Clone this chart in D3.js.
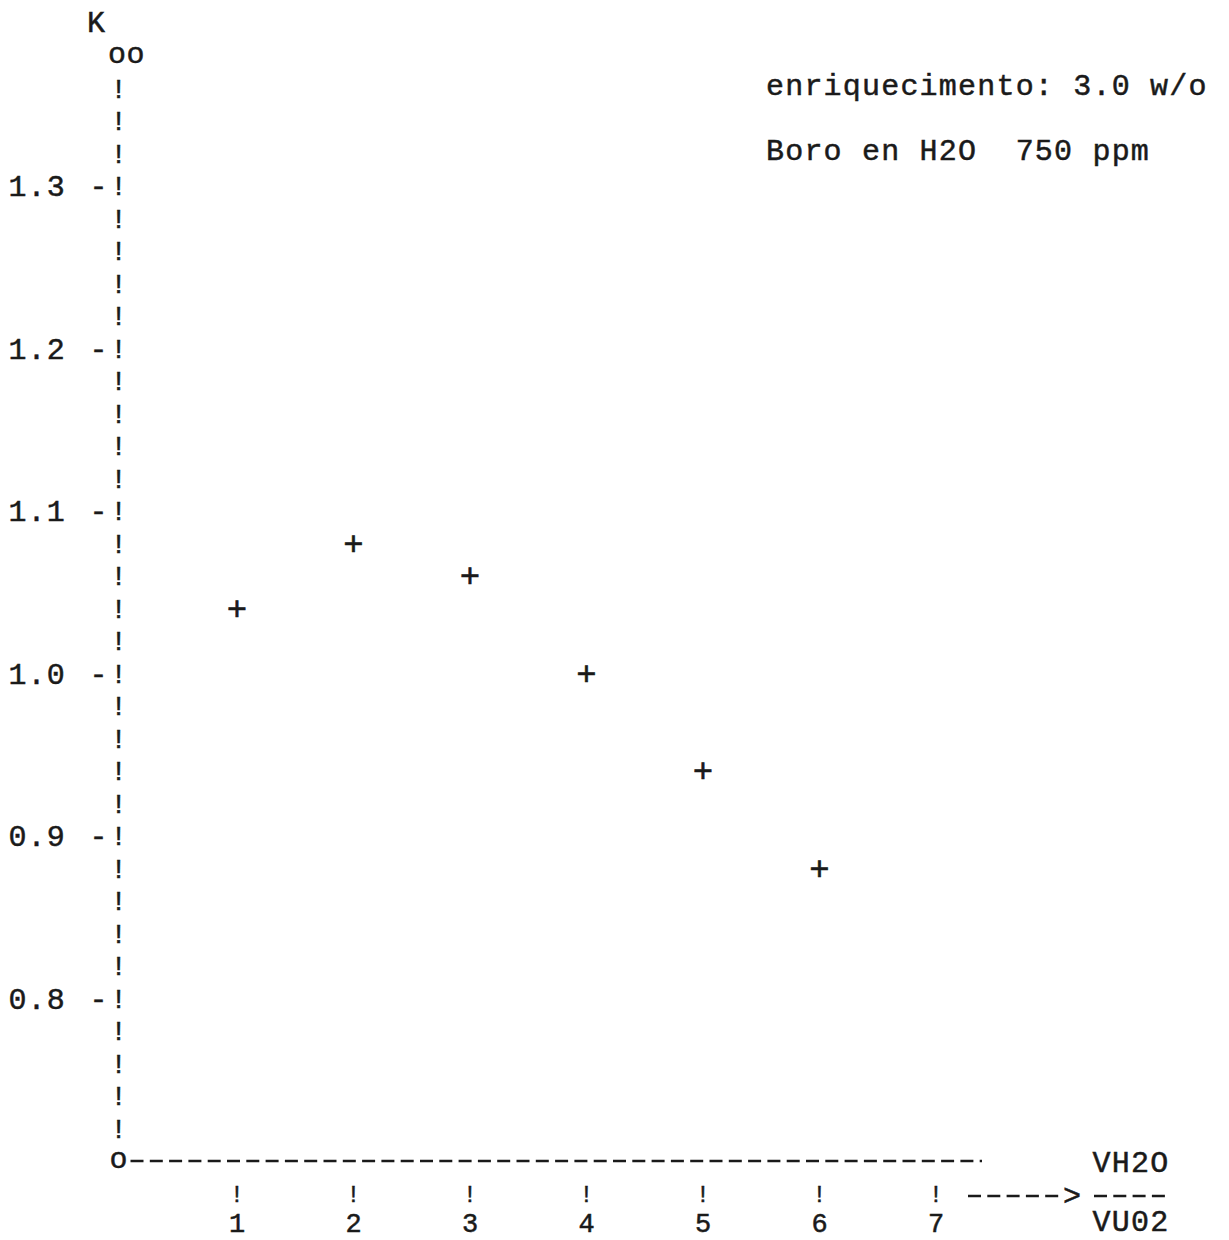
<!DOCTYPE html>
<html><head><meta charset="utf-8">
<script src="https://cdn.jsdelivr.net/npm/d3@7"></script>
<style>body{margin:0;background:#fff}svg{display:block}text{white-space:pre}</style>
</head><body>
<script>
const xValues = [1, 2, 3, 4, 5, 6];
const kValues = [1.04, 1.08, 1.06, 1.00, 0.94, 0.88];
const xTicks = [1, 2, 3, 4, 5, 6, 7];
const yTicks = [0.8, 0.9, 1.0, 1.1, 1.2, 1.3];
const yTickLabels = ["0.8", "0.9", "1.0", "1.1", "1.2", "1.3"];
const noteLines = ["enriquecimento: 3.0 w/o", "Boro en H2O  750 ppm"];
const xLabelTop = "VH2O", xLabelBottom = "VU02";

const W = 1229, H = 1240;
const ink = "#1a1a1a";
const FS = 30, LS = 1.2;
const FONT = "'Liberation Mono', 'DejaVu Sans Mono', monospace";
const svg = d3.select("body").append("svg").attr("width", W).attr("height", H);
svg.append("rect").attr("width", W).attr("height", H).attr("fill", "#fff");

const x = d3.scaleLinear().domain([0, 7]).range([120.5, 936]);
const y = d3.scaleLinear().domain([0.70, 1.38]).range([1161, 56]);

function txt(s, cx, cyBase, anchor, fs) {
  return svg.append("text").attr("x", cx).attr("y", cyBase)
    .attr("text-anchor", anchor || "middle")
    .attr("font-family", FONT)
    .attr("font-size", fs || FS).attr("fill", ink)
    .attr("stroke", ink).attr("stroke-width", 0.5)
    .attr("xml:space", "preserve")
    .text(s);
}
const capOff = 10, lowOff = 7;
const ax = x(0) - 2;

// y axis label
txt("K", 96, 32);
txt("oo", ax + 8, y(1.38) + lowOff).attr("letter-spacing", 0.5);
// y axis column of "!" (one per typed row, every 0.02)
const rows = d3.range(1, 34).map(i => +(1.38 - i * 0.02).toFixed(2));
svg.selectAll("text.bang").data(rows).enter().append("text")
  .attr("class", "bang")
  .attr("x", ax).attr("y", d => y(d) + 9)
  .attr("text-anchor", "middle")
  .attr("font-family", FONT)
  .attr("font-size", 27).attr("fill", ink)
  .attr("stroke", ink).attr("stroke-width", 0.5).text("!");
// y ticks
yTicks.forEach((v, i) => {
  txt("-", ax - 20, y(v) + capOff);
  txt(yTickLabels[i], 66, y(v) + capOff, "end").attr("letter-spacing", LS);
});
// origin
txt("o", ax, y(0.70) + lowOff);
// x axis dashes
svg.append("line").attr("x1", ax + 12).attr("x2", 982)
  .attr("y1", y(0.70)).attr("y2", y(0.70))
  .attr("stroke", ink).attr("stroke-width", 2.4).attr("stroke-dasharray", "13,6.3");
// x ticks
xTicks.forEach(t => {
  txt("!", x(t), 1202, "middle", 23);
  txt(String(t), x(t), 1231.5, "middle", 27);
});
// arrow
svg.append("line").attr("x1", 968).attr("x2", 1062)
  .attr("y1", 1196).attr("y2", 1196)
  .attr("stroke", ink).attr("stroke-width", 2.4).attr("stroke-dasharray", "13,6.3");
txt(">", 1072, 1205);
// x label fraction
txt(xLabelTop, 1131, 1172).attr("letter-spacing", LS);
svg.append("line").attr("x1", 1094).attr("x2", 1170)
  .attr("y1", 1196).attr("y2", 1196)
  .attr("stroke", ink).attr("stroke-width", 2.4).attr("stroke-dasharray", "13,6.3");
txt(xLabelBottom, 1131, 1231).attr("letter-spacing", LS);

// notes
txt(noteLines[0], 766, 95, "start").attr("letter-spacing", LS);
txt(noteLines[1], 766, 160, "start").attr("letter-spacing", LS);

// data points
svg.selectAll("text.pt").data(xValues).enter().append("text")
  .attr("class", "pt")
  .attr("x", (d, i) => x(d)).attr("y", (d, i) => y(kValues[i]) + 11)
  .attr("text-anchor", "middle")
  .attr("font-family", FONT)
  .attr("font-size", 34).attr("fill", ink)
  .attr("stroke", ink).attr("stroke-width", 0.6).text("+");
</script>
</body></html>
